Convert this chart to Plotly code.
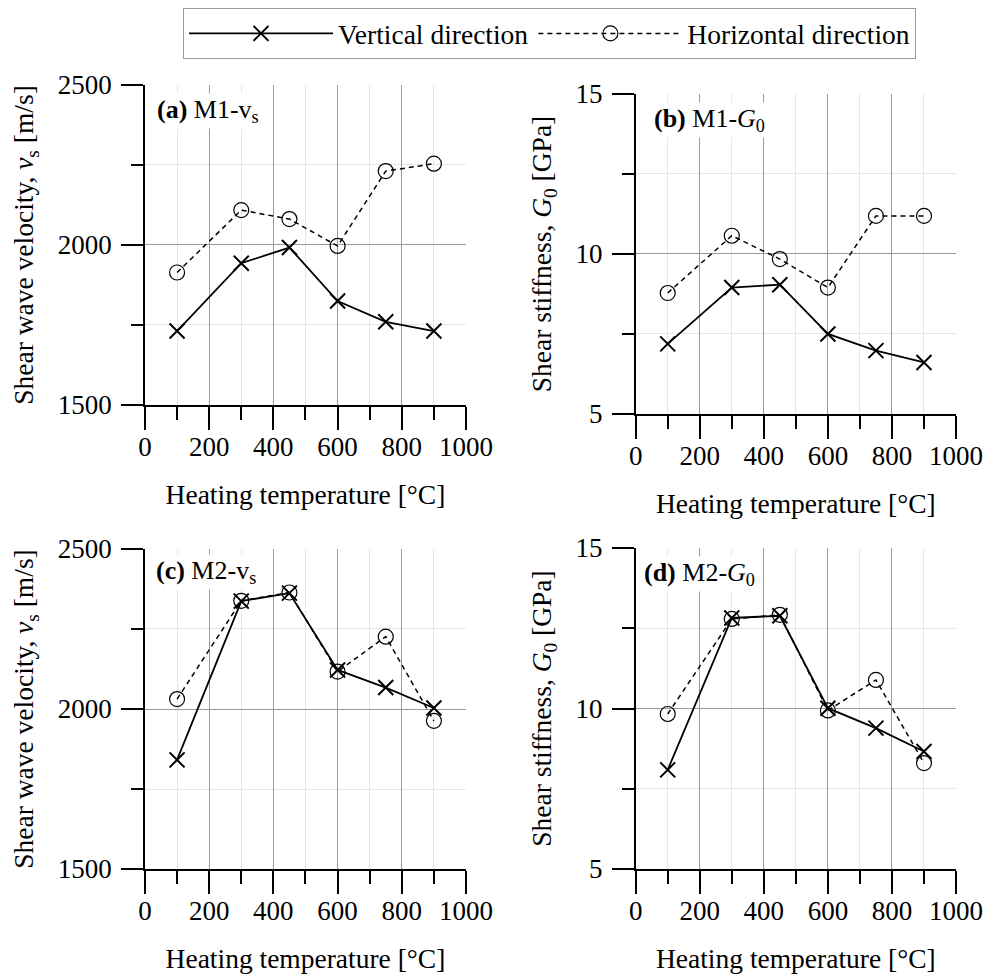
import plotly.graph_objects as go
from plotly.subplots import make_subplots

# Heating temperatures (°C)
temps = [100, 300, 450, 600, 750, 900]

# M1 shear wave velocity (m/s)
m1_vs_vertical = [1731, 1943, 1992, 1825, 1760, 1731]
m1_vs_horizontal = [1914, 2109, 2081, 1997, 2231, 2254]

# M1 shear stiffness (GPa)
m1_g0_vertical = [7.19, 8.95, 9.04, 7.50, 6.98, 6.61]
m1_g0_horizontal = [8.78, 10.57, 9.84, 8.95, 11.19, 11.19]

# M2 shear wave velocity (m/s)
m2_vs_vertical = [1841, 2337, 2362, 2122, 2067, 2003]
m2_vs_horizontal = [2031, 2338, 2364, 2117, 2226, 1963]

# M2 shear stiffness (GPa)
m2_g0_vertical = [8.09, 12.82, 12.89, 10.01, 9.39, 8.66]
m2_g0_horizontal = [9.83, 12.79, 12.92, 9.94, 10.89, 8.30]

panel_labels = ["<b>(a)</b> M1-v<sub>s</sub>",
                "<b>(b)</b> M1-<i>G</i><sub>0</sub>",
                "<b>(c)</b> M2-v<sub>s</sub>",
                "<b>(d)</b> M2-<i>G</i><sub>0</sub>"]
vs_title = "Shear wave velocity, <i>v</i><sub>s</sub> [m/s]"
g0_title = "Shear stiffness, <i>G</i><sub>0</sub> [GPa]"
x_title = "Heating temperature [°C]"

FONT = "Liberation Serif, Times New Roman, serif"

fig = make_subplots(rows=2, cols=2)

panels = [
    (1, 1, m1_vs_vertical, m1_vs_horizontal),
    (1, 2, m1_g0_vertical, m1_g0_horizontal),
    (2, 1, m2_vs_vertical, m2_vs_horizontal),
    (2, 2, m2_g0_vertical, m2_g0_horizontal),
]

for i, (r, c, vert, horiz) in enumerate(panels):
    fig.add_trace(go.Scatter(
        x=temps, y=horiz, mode="lines+markers", name="Horizontal direction",
        line=dict(color="black", width=1.5, dash="5px,4px"),
        marker=dict(symbol="circle-open", size=15, color="black",
                    line=dict(width=1.2, color="black")),
        showlegend=(i == 0), legendrank=2,
    ), row=r, col=c)
    fig.add_trace(go.Scatter(
        x=temps, y=vert, mode="lines+markers", name="Vertical direction",
        line=dict(color="black", width=1.8),
        marker=dict(symbol="x-thin-open", size=15, color="black",
                    line=dict(width=2, color="black")),
        showlegend=(i == 0), legendrank=1,
    ), row=r, col=c)

# subplot placement (paper fractions)
domains = {
    (1, 1): ([0.1454, 0.4674], [0.5855, 0.9130]),
    (1, 2): ([0.6376, 0.9589], [0.5763, 0.9038]),
    (2, 1): ([0.1454, 0.4674], [0.1105, 0.4381]),
    (2, 2): ([0.6376, 0.9589], [0.1105, 0.4391]),
}

for (r, c), (xd, yd) in domains.items():
    is_vs = (c == 1)
    fig.update_xaxes(
        domain=xd, range=[0, 1000], dtick=200, tick0=0, automargin=False,
        showline=True, linecolor="black", linewidth=1.6,
        ticks="outside", ticklen=23, tickwidth=1.5, tickcolor="black",
        ticklabelstandoff=-6,
        showgrid=True, gridcolor="#9a9a9a", gridwidth=1,
        zeroline=False,
        minor=dict(dtick=100, ticks="outside", ticklen=13, tickwidth=1.5,
                   tickcolor="black", showgrid=True, gridcolor="#e6e6e6",
                   gridwidth=1),
        tickfont=dict(family=FONT, size=27, color="black"),
        title=dict(text=x_title, font=dict(family=FONT, size=27.5, color="black"),
                   standoff=24),
        row=r, col=c)
    fig.update_yaxes(
        domain=yd, automargin=False,
        range=[1500, 2500] if is_vs else [5, 15],
        dtick=500 if is_vs else 5,
        tick0=1500 if is_vs else 5,
        showline=True, linecolor="black", linewidth=1.6,
        ticks="outside", ticklen=22, tickwidth=1.5, tickcolor="black",
        ticklabelstandoff=4,
        showgrid=True, gridcolor="#9a9a9a", gridwidth=1,
        zeroline=False,
        minor=dict(dtick=250 if is_vs else 2.5, ticks="outside", ticklen=12,
                   tickwidth=1.5, tickcolor="black", showgrid=True,
                   gridcolor="#e6e6e6", gridwidth=1),
        tickfont=dict(family=FONT, size=27, color="black"),
        title=dict(text=vs_title if is_vs else g0_title,
                   font=dict(family=FONT, size=27.5, color="black"),
                   standoff=16),
        row=r, col=c)

# panel labels in the upper-left corner of each plot
label_pos = [("x domain", "y domain", 0.03, 0.92),
             ("x2 domain", "y2 domain", 0.05, 0.92),
             ("x3 domain", "y3 domain", 0.028, 0.928),
             ("x4 domain", "y4 domain", 0.02, 0.92)]
for text, (xr, yr, ax, ay) in zip(panel_labels, label_pos):
    fig.add_annotation(text=text, xref=xr, yref=yr, x=ax, y=ay,
                       xanchor="left", yanchor="middle", showarrow=False,
                       font=dict(family=FONT, size=26, color="black"),
                       bgcolor="white")

fig.update_layout(
    width=997, height=977,
    margin=dict(l=0, r=0, t=0, b=0),
    paper_bgcolor="white", plot_bgcolor="white",
    font=dict(family=FONT, size=24, color="black"),
    legend=dict(orientation="h", x=183 / 997, xanchor="left", y=1 - 8 / 977,
                yanchor="top", bordercolor="#999999", borderwidth=1,
                itemwidth=144,
                font=dict(family=FONT, size=27.5, color="black"),
                traceorder="normal"),
)

fig.write_html("out.html")
